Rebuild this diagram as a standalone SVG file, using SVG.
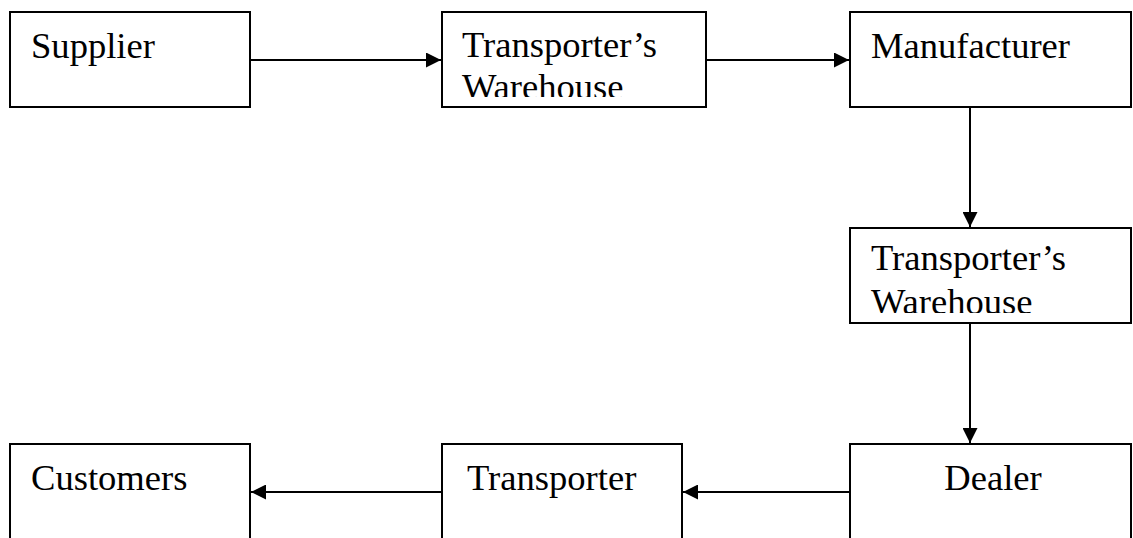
<svg xmlns="http://www.w3.org/2000/svg" width="1133" height="538" viewBox="0 0 1133 538">
<style>
.box{fill:#fff;stroke:#000;stroke-width:2}
.t{font-family:"Liberation Serif","Times New Roman",serif;font-size:36.6px;fill:#000}
.c{fill:none;stroke:#000;stroke-width:2}
</style>
<defs>
<marker id="ah" markerUnits="userSpaceOnUse" markerWidth="16" markerHeight="15" refX="15" refY="7.5" orient="auto">
<path d="M0,0 L15,7.5 L0,15 z" fill="#000"/>
</marker>
<clipPath id="cw1"><rect x="443" y="13" width="262" height="84"/></clipPath>
<clipPath id="cw2"><rect x="851" y="229" width="281" height="84"/></clipPath>
</defs>
<g id="connectors">
<line class="c" x1="250" y1="60" x2="441" y2="60" marker-end="url(#ah)"/>
<line class="c" x1="706" y1="60" x2="849" y2="60" marker-end="url(#ah)"/>
<line class="c" x1="970" y1="107" x2="970" y2="227" marker-end="url(#ah)"/>
<line class="c" x1="970" y1="323" x2="970" y2="443" marker-end="url(#ah)"/>
<line class="c" x1="850" y1="492" x2="683" y2="492" marker-end="url(#ah)"/>
<line class="c" x1="442" y1="492" x2="251" y2="492" marker-end="url(#ah)"/>
</g>
<g id="supplier">
<rect class="box" x="10" y="12" width="240" height="95"/>
<text class="t" x="31" y="58">Supplier</text>
</g>
<g id="warehouse1">
<rect class="box" x="442" y="12" width="264" height="95"/>
<g clip-path="url(#cw1)">
<text class="t" x="462" y="57">Transporter’s</text>
<text class="t" x="462" y="99">Warehouse</text>
</g>
</g>
<g id="manufacturer">
<rect class="box" x="850" y="12" width="281" height="95"/>
<text class="t" x="871" y="58">Manufacturer</text>
</g>
<g id="warehouse2">
<rect class="box" x="850" y="228" width="281" height="95"/>
<g clip-path="url(#cw2)">
<text class="t" x="871" y="270">Transporter’s</text>
<text class="t" x="871" y="314">Warehouse</text>
</g>
</g>
<g id="dealer">
<rect class="box" x="850" y="444" width="281" height="110"/>
<text class="t" x="993" y="490" text-anchor="middle">Dealer</text>
</g>
<g id="transporter">
<rect class="box" x="442" y="444" width="240" height="110"/>
<text class="t" x="467" y="490">Transporter</text>
</g>
<g id="customers">
<rect class="box" x="10" y="444" width="240" height="110"/>
<text class="t" x="31" y="490">Customers</text>
</g>
</svg>
